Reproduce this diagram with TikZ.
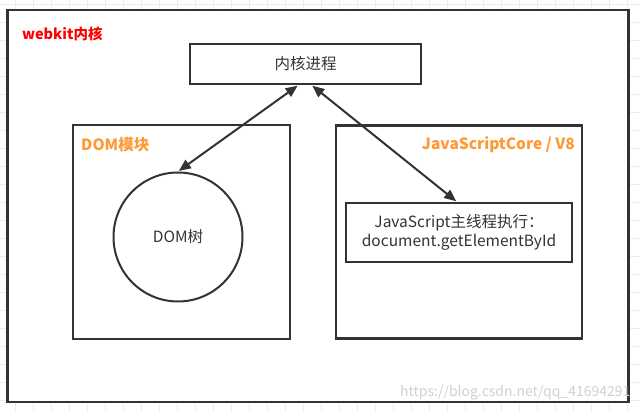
\documentclass[tikz,border=0pt]{standalone}
\usepackage{fontspec}
\setmainfont{Noto Sans CJK SC}
\usetikzlibrary{arrows.meta}
\definecolor{ink}{HTML}{333333}
\definecolor{lab}{HTML}{FF9933}
\definecolor{gridc}{HTML}{EDEDED}
\tikzset{
  frame/.style={draw=ink, line width=2.6pt, fill=white},
  boxn/.style={draw=ink, line width=2.2pt, fill=white, inner sep=0pt, text=ink, font=\fontsize{15.5}{19}\selectfont, align=center},
  arr/.style={draw=ink, line width=2pt, {Triangle[length=12pt,width=10pt]}-{Triangle[length=12pt,width=10pt]}, shorten <=1pt, shorten >=1pt},
  modlab/.style={text=lab, font=\bfseries\fontsize{15.5}{18}\selectfont, inner sep=0pt}
}
\begin{document}
\begin{tikzpicture}[x=1pt,y=-1pt]
\useasboundingbox (0,0) rectangle (640,411);
\fill[white] (0,0) rectangle (640,411);
% background grid
\foreach \x in {-3,15,...,640} \draw[gridc, line width=0.5pt] (\x,0) -- (\x,411);
\foreach \y in {4,22,...,411} \draw[gridc, line width=0.5pt] (0,\y) -- (640,\y);
% outer frame
\node[frame, minimum width=621pt, minimum height=392pt, inner sep=0pt] (outer) at (318,206) {};
\node[text=red, font=\bfseries\fontsize{14.5}{17}\selectfont, anchor=west, inner sep=0pt] (wk) at (22,34) {webkit内核};
% kernel process
\node[boxn, minimum width=231pt, minimum height=40pt] (top) at (305.5,64) {内核进程};
% DOM module
\node[frame, line width=2.4pt, minimum width=217pt, minimum height=214pt, inner sep=0pt] (dombox) at (181.5,232) {};
\node[modlab, anchor=west] (domlab) at (81,145) {DOM模块};
\node[draw=ink, line width=2pt, circle, minimum size=129pt, inner sep=0pt, text=ink, font=\fontsize{15.5}{19}\selectfont, fill=white] (dom) at (178,237) {DOM树};
% JS module
\node[frame, line width=2.4pt, minimum width=246pt, minimum height=213pt, inner sep=0pt] (jsbox) at (459,232) {};
\node[modlab, anchor=east] (jslab) at (575,145) {JavaScriptCore / V8};
\node[boxn, minimum width=226pt, minimum height=59pt] (js) at (459,232.5) {JavaScript主线程执行：\\document.getElementById};
% arrows
\draw[arr] ([xshift=-7pt]top.south) -- (dom.north);
\draw[arr] ([xshift=6pt]top.south) -- ([xshift=-2pt]js.north);
% watermark
\node[text=black!18, font=\fontsize{14}{16}\selectfont, anchor=west, inner sep=0pt] (wm) at (400,393) {https://blog.csdn.net/qq\_41694291};
\end{tikzpicture}
\end{document}
